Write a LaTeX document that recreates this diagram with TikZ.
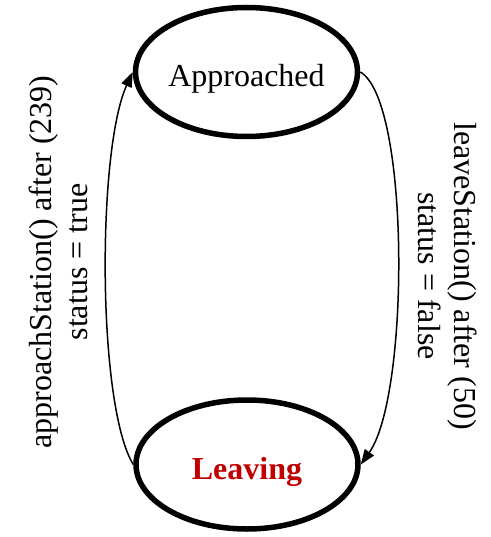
\documentclass[tikz,border=0pt]{standalone}
\usepackage{fontspec}
\setmainfont{Liberation Serif}
\usetikzlibrary{shapes.geometric,arrows.meta}
\definecolor{leavered}{HTML}{C00000}
\begin{document}
\begin{tikzpicture}[x=1pt,y=-1pt,
  state/.style={ellipse,draw,line width=5.5pt,minimum width=222pt,minimum height=129pt,inner sep=0pt},
  statetext/.style={font=\fontsize{32}{36}\selectfont,inner sep=0pt},
  trans/.style={line width=1.5pt,-{Triangle[length=15pt,width=11pt]}},
  translabel/.style={font=\fontsize{32}{36}\selectfont,align=center,inner sep=0pt}]
\useasboundingbox (0,0) rectangle (490,537);
% states
\node[state] (A) at (246.5,72) {};
\node[statetext] (At) at (246.5,78.5) {Approached};
\node[state] (L) at (247,464.5) {};
\node[statetext,text=leavered,font=\fontsize{32}{36}\selectfont\bfseries] (Lt) at (247,471.5) {Leaving};
% transitions
\draw[trans] (L.west) .. controls (97,405) and (97,150) .. (A.west);
\draw[trans] (A.east) .. controls (410,100) and (410,395) .. (L.east);
% transition labels
\node[translabel,rotate=90] (la) at (58.5,262) {approachStation() after (239)\\status = true};
\node[translabel,rotate=-90] (lb) at (447.5,276) {leaveStation() after (50)\\status = false};
\end{tikzpicture}
\end{document}
